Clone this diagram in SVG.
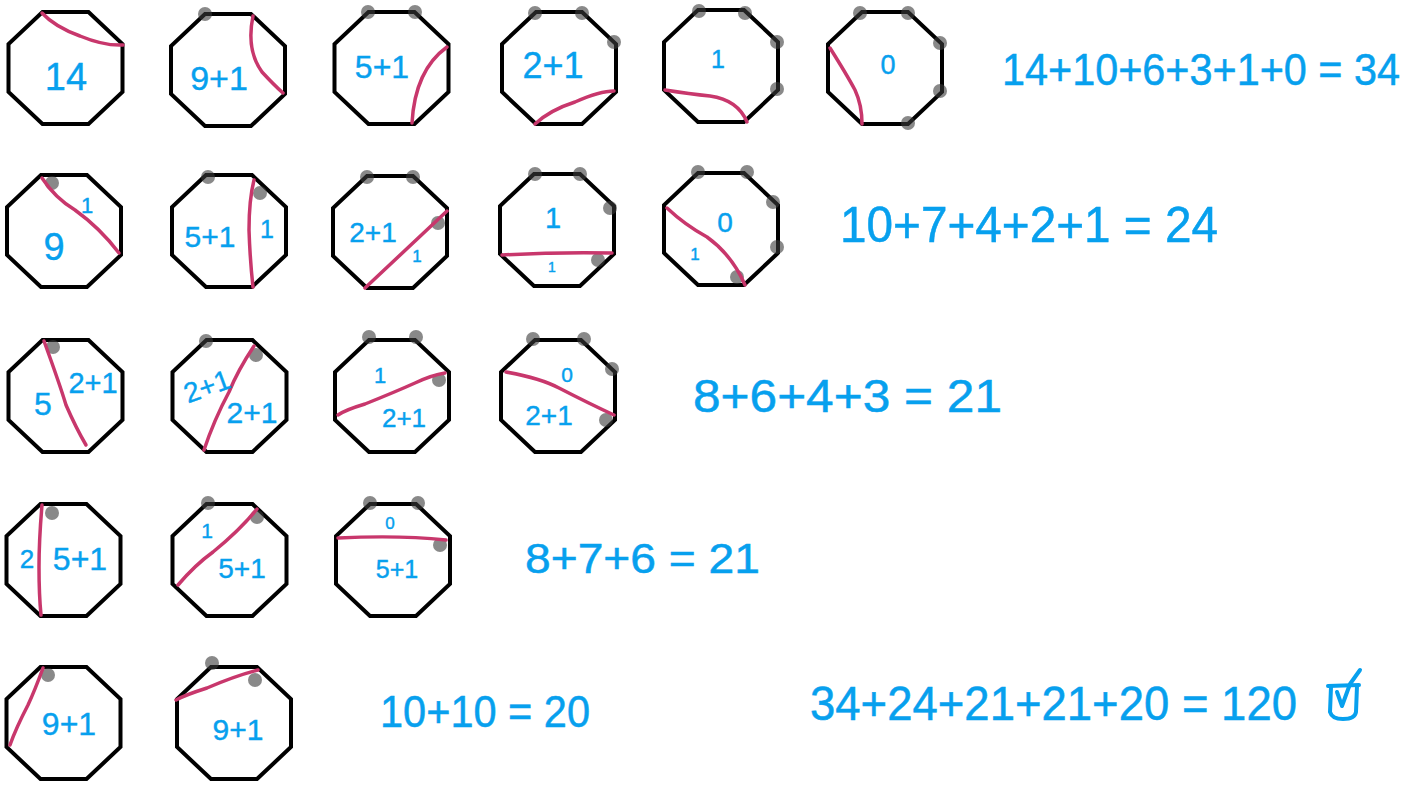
<svg xmlns="http://www.w3.org/2000/svg" xmlns:xlink="http://www.w3.org/1999/xlink" width="1426" height="785" viewBox="0 0 1426 785">
<style>
.oct{fill:none;stroke:#000;stroke-width:4;stroke-linejoin:miter}
.cut{fill:none;stroke:#c8376c;stroke-width:3.5;stroke-linecap:round}
.dot{fill:#3a3a3a;opacity:.6}
.t{font-family:"Liberation Sans",Arial,sans-serif;fill:#07a0ee;stroke:#07a0ee;stroke-width:0.4;text-anchor:middle}
.eq{font-family:"Liberation Sans",Arial,sans-serif;fill:#07a0ee;stroke:#07a0ee;stroke-width:0.5}
</style>
<defs>
<polygon id="oct" class="oct" points="-23,-56 23,-56 57,-24 57,24 23,56 -23,56 -57,24 -57,-24"/>
</defs>
<rect width="1426" height="785" fill="#fff"/>

<!-- Row 1 -->
<g id="r1o1">
<use href="#oct" x="65.5" y="68"/>
<path class="cut" d="M42,13 Q55,27 80,36 Q104,46 123,45"/>
<text class="t" x="66" y="90" font-size="38">14</text>
</g>
<g id="r1o2">
<use href="#oct" x="228" y="70"/>
<circle class="dot" cx="205" cy="14" r="7"/>
<path class="cut" d="M253,16 Q246,50 262,72 Q274,85 283,93"/>
<text class="t" x="219" y="90" font-size="34">9+1</text>
</g>
<g id="r1o3">
<use href="#oct" x="391.5" y="68"/>
<circle class="dot" cx="368" cy="12" r="7"/>
<circle class="dot" cx="415" cy="12" r="7"/>
<path class="cut" d="M447,47 Q415,70 412,123"/>
<text class="t" x="382" y="78" font-size="32">5+1</text>
</g>
<g id="r1o4">
<use href="#oct" x="559" y="68"/>
<circle class="dot" cx="535" cy="13" r="7"/>
<circle class="dot" cx="582" cy="13" r="7"/>
<circle class="dot" cx="614" cy="42" r="7"/>
<path class="cut" d="M535,124 Q550,110 575,102 Q600,91 614,91"/>
<text class="t" x="553" y="78" font-size="36">2+1</text>
</g>
<g id="r1o5">
<use href="#oct" x="721" y="66"/>
<circle class="dot" cx="699" cy="11" r="7"/>
<circle class="dot" cx="745" cy="13" r="7"/>
<circle class="dot" cx="777" cy="42" r="7"/>
<circle class="dot" cx="777" cy="89" r="7"/>
<path class="cut" d="M665,90 Q690,94 710,96 Q738,100 747,122"/>
<text class="t" x="718" y="68" font-size="25">1</text>
</g>
<g id="r1o6">
<use href="#oct" x="885" y="68"/>
<circle class="dot" cx="860" cy="13" r="7"/>
<circle class="dot" cx="908" cy="13" r="7"/>
<circle class="dot" cx="940" cy="43" r="7"/>
<circle class="dot" cx="940" cy="91" r="7"/>
<circle class="dot" cx="908" cy="123" r="7"/>
<path class="cut" d="M830,48 Q847,75 855,90 Q862,105 862,124"/>
<text class="t" x="888" y="74" font-size="27">0</text>
</g>

<!-- Row 2 -->
<g id="r2o1">
<use href="#oct" x="64" y="231"/>
<circle class="dot" cx="52" cy="183" r="7"/>
<path class="cut" d="M42,178 Q55,198 75,210 Q100,228 119,253"/>
<text class="t" x="54" y="260" font-size="38">9</text>
<text class="t" x="87" y="213" font-size="22">1</text>
</g>
<g id="r2o2">
<use href="#oct" x="229" y="231"/>
<circle class="dot" cx="208" cy="177" r="7"/>
<circle class="dot" cx="260" cy="193" r="7"/>
<path class="cut" d="M254,180 Q249,200 249,230 Q250,260 253,287"/>
<text class="t" x="210" y="247" font-size="30">5+1</text>
<text class="t" x="267" y="238" font-size="25">1</text>
</g>
<g id="r2o3">
<use href="#oct" x="390" y="232"/>
<circle class="dot" cx="367" cy="177" r="7"/>
<circle class="dot" cx="413" cy="177" r="7"/>
<circle class="dot" cx="438" cy="223" r="7"/>
<path class="cut" d="M365,288 L447,211"/>
<text class="t" x="373" y="242" font-size="28">2+1</text>
<text class="t" x="417" y="262" font-size="17">1</text>
</g>
<g id="r2o4">
<use href="#oct" x="557" y="230"/>
<circle class="dot" cx="535" cy="174" r="7"/>
<circle class="dot" cx="580" cy="174" r="7"/>
<circle class="dot" cx="610" cy="208" r="7"/>
<circle class="dot" cx="598" cy="260" r="7"/>
<path class="cut" d="M502,255 Q555,252 612,253"/>
<text class="t" x="553" y="228" font-size="29">1</text>
<text class="t" x="552" y="272" font-size="14">1</text>
</g>
<g id="r2o5">
<use href="#oct" x="721" y="229"/>
<circle class="dot" cx="698" cy="172" r="7"/>
<circle class="dot" cx="747" cy="172" r="7"/>
<circle class="dot" cx="773" cy="202" r="7"/>
<circle class="dot" cx="777" cy="247" r="7"/>
<circle class="dot" cx="737" cy="277" r="7"/>
<path class="cut" d="M667,208 Q685,225 707,237 Q732,255 745,285"/>
<text class="t" x="725" y="232" font-size="28">0</text>
<text class="t" x="695" y="260" font-size="17">1</text>
</g>

<!-- Row 3 -->
<g id="r3o1">
<use href="#oct" x="65.5" y="396"/>
<circle class="dot" cx="53" cy="347" r="7"/>
<path class="cut" d="M44,341 Q60,385 66,405 Q76,428 86,445"/>
<text class="t" x="43" y="415" font-size="32">5</text>
<text class="t" x="93" y="393" font-size="29">2+1</text>
</g>
<g id="r3o2">
<use href="#oct" x="229.5" y="396"/>
<circle class="dot" cx="206" cy="341" r="7"/>
<circle class="dot" cx="256" cy="355" r="7"/>
<path class="cut" d="M254,346 Q238,370 229,392 Q214,420 204,450"/>
<text class="t" x="207" y="396" font-size="28" transform="rotate(-20 207 386)">2+1</text>
<text class="t" x="252" y="423" font-size="30">2+1</text>
</g>
<g id="r3o3">
<use href="#oct" x="392" y="396"/>
<circle class="dot" cx="369" cy="337" r="7"/>
<circle class="dot" cx="416" cy="337" r="7"/>
<circle class="dot" cx="439" cy="380" r="7"/>
<path class="cut" d="M338,415 Q345,410 365,404 Q395,392 415,383 Q432,375 445,373"/>
<text class="t" x="380" y="383" font-size="22">1</text>
<text class="t" x="404" y="427" font-size="26">2+1</text>
</g>
<g id="r3o4">
<use href="#oct" x="558" y="396"/>
<circle class="dot" cx="533" cy="339" r="7"/>
<circle class="dot" cx="584" cy="339" r="7"/>
<circle class="dot" cx="612" cy="369" r="7"/>
<circle class="dot" cx="606" cy="420" r="7"/>
<path class="cut" d="M506,372 Q540,378 559,388 Q590,404 614,415"/>
<text class="t" x="567" y="382" font-size="21">0</text>
<text class="t" x="549" y="425" font-size="28">2+1</text>
</g>

<!-- Row 4 -->
<g id="r4o1">
<use href="#oct" x="63.5" y="560"/>
<circle class="dot" cx="52" cy="513" r="7"/>
<path class="cut" d="M42,505 Q39,540 39,567 Q39,595 41,615"/>
<text class="t" x="27" y="568" font-size="26">2</text>
<text class="t" x="80" y="570" font-size="32">5+1</text>
</g>
<g id="r4o2">
<use href="#oct" x="229.5" y="560"/>
<circle class="dot" cx="208" cy="503" r="7"/>
<circle class="dot" cx="257" cy="517" r="7"/>
<path class="cut" d="M178,585 Q195,565 213,552 Q240,530 257,509"/>
<text class="t" x="207" y="538" font-size="21">1</text>
<text class="t" x="242" y="578" font-size="28">5+1</text>
</g>
<g id="r4o3">
<use href="#oct" x="393" y="560"/>
<circle class="dot" cx="370" cy="503" r="7"/>
<circle class="dot" cx="418" cy="503" r="7"/>
<circle class="dot" cx="440" cy="545" r="7"/>
<path class="cut" d="M338,538 Q400,535 446,540"/>
<text class="t" x="390" y="529" font-size="17">0</text>
<text class="t" x="397" y="578" font-size="25">5+1</text>
</g>

<!-- Row 5 -->
<g id="r5o1">
<use href="#oct" x="63.5" y="723"/>
<circle class="dot" cx="48" cy="675" r="7"/>
<path class="cut" d="M43,668 Q35,690 28,705 Q16,728 10,745"/>
<text class="t" x="69" y="735" font-size="32">9+1</text>
</g>
<g id="r5o2">
<use href="#oct" x="234" y="723"/>
<circle class="dot" cx="212" cy="663" r="7"/>
<circle class="dot" cx="255" cy="680" r="7"/>
<path class="cut" d="M176,700 Q185,695 207,688 Q235,676 258,670"/>
<text class="t" x="238" y="740" font-size="30">9+1</text>
</g>

<!-- Equations -->
<g id="equations">
<text class="eq" x="1002" y="85" font-size="44" textLength="398" lengthAdjust="spacingAndGlyphs">14+10+6+3+1+0 = 34</text>
<text class="eq" x="840" y="242" font-size="50" textLength="378" lengthAdjust="spacingAndGlyphs">10+7+4+2+1 = 24</text>
<text class="eq" x="693" y="412" font-size="46" textLength="309" lengthAdjust="spacingAndGlyphs">8+6+4+3 = 21</text>
<text class="eq" x="525" y="573" font-size="42" textLength="235" lengthAdjust="spacingAndGlyphs">8+7+6 = 21</text>
<text class="eq" x="380" y="727" font-size="44" textLength="210" lengthAdjust="spacingAndGlyphs">10+10 = 20</text>
<text class="eq" x="810" y="720" font-size="48" textLength="487" lengthAdjust="spacingAndGlyphs">34+24+21+21+20 = 120</text>
<g id="checkbox" fill="none" stroke="#07a0ee" stroke-width="4" stroke-linecap="round" stroke-linejoin="round">
<path d="M1328,686 L1359,685"/>
<path d="M1331,687 L1330,712 Q1332,719 1343,719 Q1355,719 1356,712 L1357,686"/>
<path d="M1337,692 L1342,706 L1350,684 L1360,670"/>
</g>
</g>
</svg>
